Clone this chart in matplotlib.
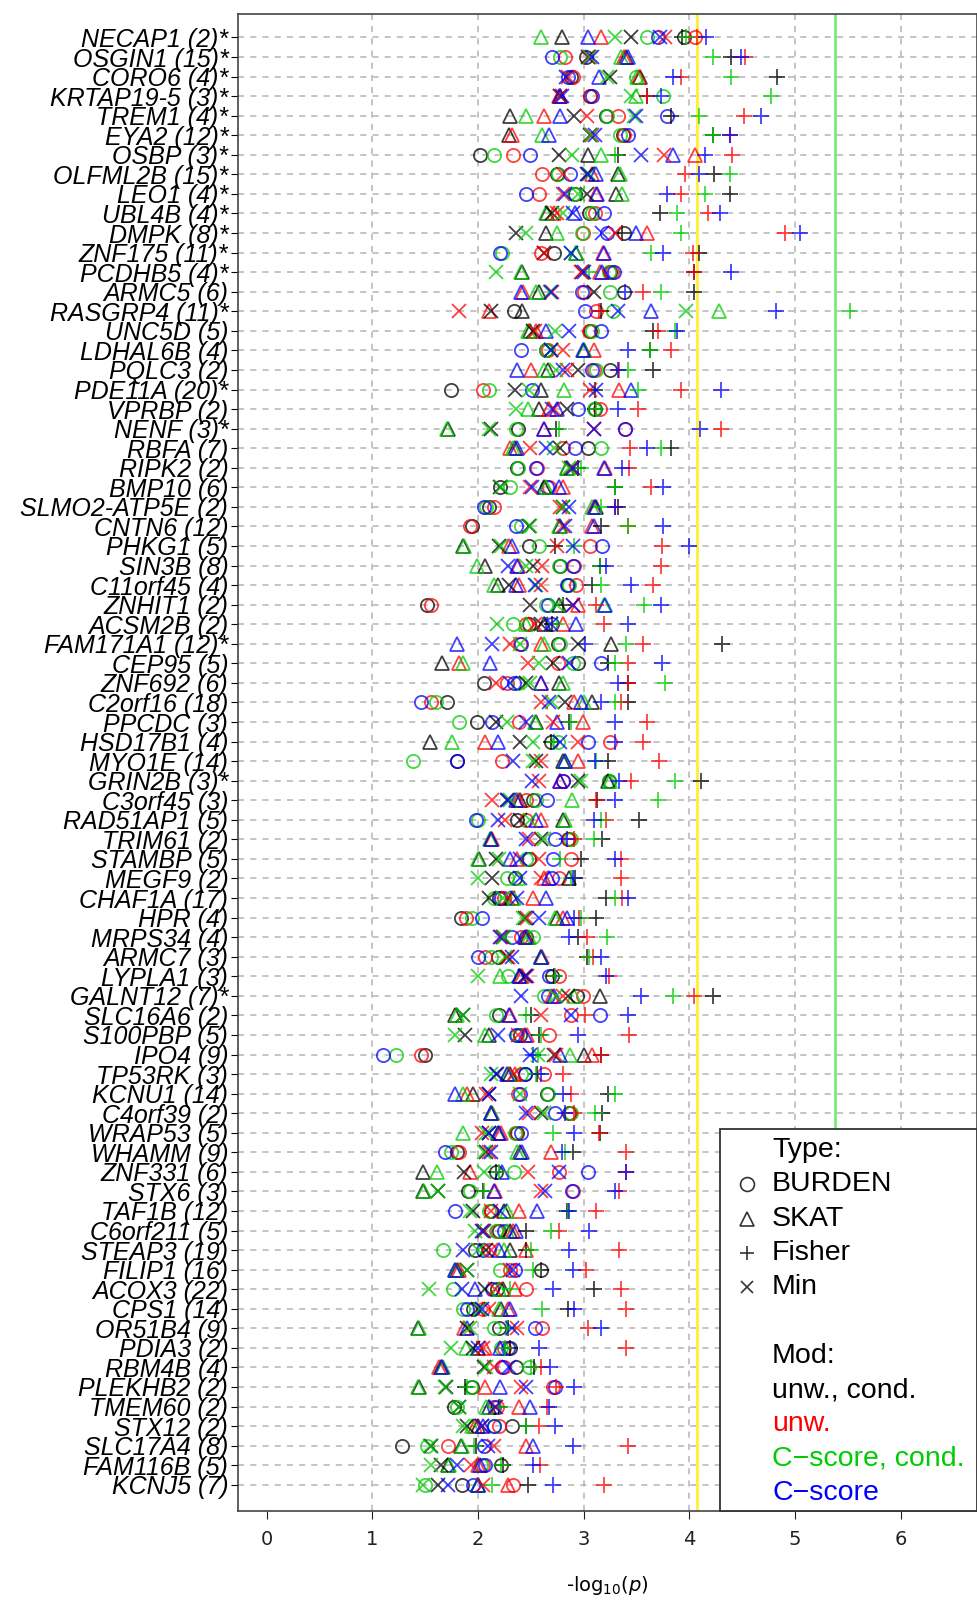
import matplotlib.pyplot as plt
from matplotlib.patches import Rectangle
from matplotlib.lines import Line2D

# genes from top to bottom, number of variants, and * flag
genes = ["NECAP1", "OSGIN1", "CORO6", "KRTAP19-5", "TREM1", "EYA2", "OSBP", "OLFML2B", "LEO1", "UBL4B",
         "DMPK", "ZNF175", "PCDHB5", "ARMC5", "RASGRP4", "UNC5D", "LDHAL6B", "PQLC3", "PDE11A", "VPRBP",
         "NENF", "RBFA", "RIPK2", "BMP10", "SLMO2-ATP5E", "CNTN6", "PHKG1", "SIN3B", "C11orf45", "ZNHIT1",
         "ACSM2B", "FAM171A1", "CEP95", "ZNF692", "C2orf16", "PPCDC", "HSD17B1", "MYO1E", "GRIN2B", "C3orf45",
         "RAD51AP1", "TRIM61", "STAMBP", "MEGF9", "CHAF1A", "HPR", "MRPS34", "ARMC7", "LYPLA1", "GALNT12",
         "SLC16A6", "S100PBP", "IPO4", "TP53RK", "KCNU1", "C4orf39", "WRAP53", "WHAMM", "ZNF331", "STX6",
         "TAF1B", "C6orf211", "STEAP3", "FILIP1", "ACOX3", "CPS1", "OR51B4", "PDIA3", "RBM4B", "PLEKHB2",
         "TMEM60", "STX12", "SLC17A4", "FAM116B", "KCNJ5"]
n_var = [2, 15, 4, 3, 4, 12, 3, 15, 4, 4, 8, 11, 4, 6, 11, 5, 4, 2, 20, 2, 3, 7, 2, 6, 2, 12, 5, 8, 4, 2,
         2, 12, 5, 6, 18, 3, 4, 14, 3, 3, 5, 2, 5, 2, 17, 4, 4, 3, 3, 7, 2, 5, 9, 3, 14, 2, 5, 9, 6, 3,
         12, 5, 19, 16, 22, 14, 9, 2, 4, 2, 2, 2, 8, 5, 7]
starred = ["NECAP1", "OSGIN1", "CORO6", "KRTAP19-5", "TREM1", "EYA2", "OSBP", "OLFML2B", "LEO1", "UBL4B",
           "DMPK", "ZNF175", "PCDHB5", "RASGRP4", "PDE11A", "NENF", "FAM171A1", "GRIN2B", "GALNT12"]

# -log10(p) per gene, columns: unw.+cond, unw., C-score+cond, C-score
burden = [[3.95, 4.05, 3.60, 3.70], [3.02, 2.82, 2.78, 2.70], [2.88, 2.90, 3.49, 2.85], [3.06, 3.06, 3.75, 3.08],
          [3.21, 3.32, 3.22, 3.79], [3.37, 3.38, 3.34, 3.42], [2.02, 2.33, 2.15, 2.49], [2.75, 2.61, 2.76, 2.87],
          [2.92, 2.58, 2.91, 2.45], [3.05, 3.11, 3.08, 3.19], [3.38, 2.99, 2.98, 3.22], [2.72, 2.60, 2.23, 2.21],
          [3.25, 3.27, 3.24, 3.29], [3.38, 3.00, 3.25, 2.98], [2.34, 3.12, 3.28, 3.01], [3.06, 3.05, 3.08, 3.16],
          [2.64, 2.66, 2.64, 2.41], [3.25, 3.10, 3.12, 3.08], [1.74, 2.05, 2.10, 2.51], [3.11, 3.15, 3.10, 2.95],
          [2.38, 3.39, 2.36, 3.39], [3.04, 2.80, 3.16, 2.92], [2.37, 2.56, 2.38, 2.55], [2.21, 2.67, 2.30, 2.65],
          [2.10, 2.15, 2.08, 2.06], [1.94, 1.92, 2.41, 2.36], [2.48, 3.06, 2.58, 3.17], [2.78, 2.91, 2.77, 2.90],
          [2.85, 2.93, 2.86, 2.84], [1.52, 1.56, 2.64, 2.66], [2.48, 2.45, 2.33, 2.70], [2.76, 2.40, 2.78, 2.41],
          [2.95, 2.76, 2.90, 3.16], [2.06, 2.27, 2.38, 2.34], [1.71, 1.56, 1.60, 1.46], [1.99, 2.39, 1.82, 2.13],
          [2.69, 3.25, 2.76, 3.04], [1.80, 2.23, 1.39, 1.80], [3.24, 2.80, 3.24, 2.80], [2.52, 2.45, 2.55, 2.65],
          [2.37, 2.45, 2.00, 1.98], [2.85, 2.86, 2.88, 2.73], [2.48, 2.88, 2.45, 2.71], [2.35, 2.77, 2.27, 2.70],
          [2.20, 2.25, 2.15, 2.22], [1.84, 1.89, 1.94, 2.04], [2.45, 2.41, 2.52, 2.32], [2.19, 2.07, 2.12, 2.00],
          [2.70, 2.77, 2.28, 2.67], [2.94, 2.99, 2.62, 2.66], [2.20, 2.88, 2.17, 3.15], [2.40, 2.67, 2.37, 2.36],
          [1.50, 1.46, 1.22, 1.10], [2.44, 2.62, 2.41, 2.44], [2.65, 2.38, 2.66, 2.40], [2.86, 2.87, 2.88, 2.73],
          [2.37, 2.36, 2.35, 2.41], [1.80, 1.82, 1.74, 1.69], [2.17, 2.77, 2.34, 3.04], [1.91, 2.90, 1.92, 2.89],
          [2.12, 2.12, 2.10, 1.78], [2.20, 2.18, 2.17, 2.25], [1.97, 2.10, 1.67, 2.05], [2.60, 2.30, 2.21, 2.35],
          [2.18, 2.45, 1.76, 2.13], [1.95, 2.05, 1.86, 1.90], [2.20, 2.61, 2.15, 2.54], [2.30, 2.25, 2.22, 2.28],
          [2.36, 2.25, 2.48, 2.23], [1.94, 2.71, 1.93, 2.73], [1.77, 2.18, 1.80, 2.15], [2.32, 2.20, 2.15, 2.15],
          [1.28, 1.72, 1.52, 2.06], [2.22, 2.05, 2.03, 2.07], [1.85, 2.33, 1.50, 1.95]]
skat = [[2.79, 3.16, 2.60, 3.04], [3.40, 3.38, 3.35, 3.42], [3.53, 3.52, 3.50, 3.14], [2.78, 2.77, 3.49, 2.78],
        [2.30, 2.62, 2.45, 2.78], [2.29, 2.32, 2.61, 2.67], [3.04, 4.05, 3.16, 3.84], [3.32, 3.08, 3.34, 3.12],
        [3.31, 3.12, 3.36, 3.13], [2.65, 2.72, 2.64, 2.92], [2.64, 3.60, 2.75, 3.49], [2.93, 3.18, 2.93, 3.19],
        [2.42, 3.15, 2.41, 3.17], [2.58, 2.43, 2.55, 2.41], [2.42, 2.10, 4.28, 3.64], [2.49, 2.55, 2.47, 2.64],
        [3.00, 3.10, 3.00, 2.99], [2.66, 2.50, 2.62, 2.37], [2.60, 3.33, 2.81, 3.45], [2.58, 2.67, 2.47, 2.75],
        [1.72, 2.62, 1.71, 2.62], [2.35, 2.30, 2.33, 2.37], [2.84, 3.20, 2.84, 3.19], [2.62, 2.80, 2.64, 2.77],
        [3.12, 3.10, 3.08, 3.11], [2.78, 3.08, 2.77, 3.10], [1.86, 2.29, 1.87, 2.32], [2.07, 2.38, 1.99, 2.37],
        [2.19, 2.39, 2.15, 2.36], [2.77, 2.95, 3.19, 3.20], [2.62, 2.80, 2.45, 2.93], [3.26, 2.60, 2.62, 1.80],
        [1.66, 1.82, 1.86, 2.11], [2.77, 2.60, 2.80, 2.60], [3.08, 2.91, 3.00, 2.97], [2.55, 2.99, 2.54, 2.75],
        [1.55, 2.07, 1.75, 2.19], [2.80, 2.95, 2.82, 2.82], [3.23, 2.78, 3.25, 2.78], [2.40, 2.38, 2.89, 2.36],
        [2.80, 2.60, 2.82, 2.55], [2.12, 2.13, 2.11, 2.12], [2.01, 2.37, 2.00, 2.30], [2.86, 2.62, 2.38, 2.67],
        [2.32, 2.52, 2.34, 2.64], [2.75, 2.80, 2.73, 2.84], [2.46, 2.45, 2.48, 2.44], [2.60, 2.61, 2.60, 2.60],
        [2.40, 2.42, 2.21, 2.39], [3.15, 2.70, 2.91, 2.72], [1.78, 2.30, 1.80, 2.29], [2.10, 2.46, 2.07, 2.44],
        [3.00, 3.08, 2.87, 2.78], [2.30, 2.35, 2.28, 2.27], [1.95, 1.90, 1.86, 1.78], [2.12, 2.13, 2.13, 2.12],
        [2.19, 2.22, 1.86, 2.20], [2.40, 2.69, 2.37, 2.42], [1.48, 1.92, 1.61, 2.23], [1.48, 2.16, 1.49, 2.15],
        [2.25, 2.39, 2.27, 2.56], [2.30, 2.33, 2.27, 2.36], [2.30, 2.45, 2.25, 2.20], [1.80, 1.82, 1.78, 1.78],
        [2.24, 2.35, 2.20, 1.97], [2.22, 2.28, 2.20, 2.30], [1.43, 1.87, 1.44, 1.90], [2.00, 2.07, 1.89, 2.21],
        [1.65, 1.63, 1.67, 1.66], [1.44, 2.07, 1.43, 2.21], [2.10, 2.39, 2.08, 2.49], [2.00, 1.97, 1.94, 2.05],
        [1.84, 2.45, 1.85, 2.52], [1.72, 2.00, 1.73, 2.02], [2.00, 2.28, 2.00, 2.00]]
fisher = [[3.93, 4.07, 3.97, 4.16], [4.39, 4.53, 4.22, 4.49], [4.83, 3.92, 4.39, 3.84], [3.60, 3.60, 4.77, 3.73],
          [3.83, 4.52, 4.09, 4.68], [4.22, 4.38, 4.22, 4.38], [3.32, 4.40, 3.30, 4.15], [4.23, 3.96, 4.38, 4.09],
          [4.38, 3.92, 4.15, 3.79], [3.72, 4.18, 3.88, 4.29], [3.36, 4.90, 3.92, 5.05], [4.09, 4.03, 3.64, 3.75],
          [4.04, 4.04, 3.05, 4.39], [4.04, 3.56, 3.73, 3.39], [3.16, 3.14, 5.52, 4.82], [3.66, 3.70, 3.86, 3.88],
          [3.63, 3.83, 3.63, 3.42], [3.66, 3.33, 3.42, 3.32], [3.11, 3.92, 3.51, 4.30], [3.11, 3.51, 3.12, 3.32],
          [2.74, 4.30, 2.77, 4.10], [3.83, 3.44, 3.73, 3.60], [2.95, 3.43, 2.97, 3.36], [3.30, 3.64, 3.30, 3.75],
          [3.32, 3.30, 3.16, 3.30], [3.16, 3.42, 3.42, 3.75], [2.73, 3.74, 2.91, 4.00], [3.15, 3.73, 3.15, 3.21],
          [3.08, 3.66, 3.16, 3.45], [2.80, 3.12, 3.57, 3.73], [2.70, 3.19, 2.75, 3.42], [4.31, 3.56, 3.40, 3.01],
          [3.23, 3.42, 3.30, 3.74], [3.42, 3.42, 3.77, 3.32], [3.42, 3.35, 3.30, 3.16], [2.86, 3.60, 2.88, 3.30],
          [2.69, 3.56, 2.72, 3.30], [3.23, 3.71, 3.12, 3.11], [4.11, 3.45, 3.86, 3.33], [3.13, 3.12, 3.70, 3.30],
          [3.52, 3.21, 3.16, 3.10], [3.17, 2.91, 3.10, 2.84], [2.97, 3.35, 2.78, 3.30], [2.92, 3.35, 2.88, 2.90],
          [3.21, 3.36, 3.30, 3.42], [3.12, 2.96, 2.97, 2.91], [2.95, 3.03, 3.22, 2.86], [3.03, 3.09, 3.05, 3.16],
          [2.72, 3.24, 2.73, 3.21], [4.22, 4.04, 3.84, 3.54], [2.50, 3.01, 2.45, 3.42], [2.58, 3.43, 2.60, 2.95],
          [3.16, 3.16, 2.57, 2.52], [2.56, 2.80, 2.55, 2.60], [3.23, 2.88, 3.30, 2.80], [3.17, 2.91, 3.11, 2.82],
          [3.15, 3.14, 2.71, 2.91], [2.90, 3.40, 2.82, 2.79], [2.17, 3.40, 2.20, 3.40], [2.05, 3.33, 2.06, 3.30],
          [2.84, 3.12, 2.85, 2.86], [2.45, 2.77, 2.69, 3.05], [2.45, 3.33, 2.50, 2.86], [2.60, 3.02, 2.52, 2.90],
          [3.10, 3.35, 2.30, 2.71], [2.85, 3.40, 2.61, 2.91], [2.28, 3.04, 2.27, 3.16], [2.30, 3.40, 2.26, 2.58],
          [2.53, 2.60, 2.50, 2.68], [1.88, 2.74, 1.90, 2.91], [2.20, 2.65, 2.21, 2.67], [2.45, 2.58, 2.45, 2.73],
          [1.98, 3.42, 1.96, 2.90], [2.24, 2.59, 2.22, 2.52], [2.47, 3.19, 2.13, 2.71]]
minp = [[3.45, 3.77, 3.30, 3.72], [3.04, 3.05, 3.06, 3.08], [3.25, 2.85, 3.22, 2.83], [2.78, 2.78, 3.45, 2.79],
        [2.91, 3.03, 3.48, 3.49], [3.06, 3.08, 3.07, 3.11], [2.77, 3.76, 2.89, 3.54], [3.03, 2.80, 3.05, 3.04],
        [3.03, 2.80, 2.95, 2.82], [2.70, 2.75, 2.80, 2.90], [2.36, 3.30, 2.45, 3.17], [2.62, 2.62, 2.88, 2.88],
        [2.98, 2.97, 2.17, 3.00], [3.10, 2.70, 2.68, 2.69], [2.12, 1.82, 3.97, 3.32], [2.52, 2.54, 2.73, 2.86],
        [2.69, 2.80, 2.69, 2.69], [2.95, 2.84, 2.74, 2.80], [2.35, 3.06, 2.48, 3.12], [2.84, 2.72, 2.36, 2.70],
        [2.12, 3.10, 2.10, 3.10], [2.78, 2.49, 2.72, 2.64], [2.88, 2.89, 2.86, 2.90], [2.21, 2.49, 2.22, 2.51],
        [2.80, 2.78, 2.80, 2.86], [2.48, 2.80, 2.49, 2.82], [2.20, 2.75, 2.22, 2.90], [2.52, 2.61, 2.45, 2.28],
        [2.29, 2.60, 2.55, 2.54], [2.49, 2.90, 2.75, 2.90], [2.60, 2.54, 2.18, 2.69], [2.95, 2.30, 2.40, 2.13],
        [2.71, 2.47, 2.58, 2.86], [2.45, 2.17, 2.49, 2.30], [2.82, 2.60, 2.70, 2.67], [2.17, 2.71, 2.27, 2.45],
        [2.40, 2.95, 2.52, 2.78], [2.55, 2.60, 2.52, 2.33], [2.95, 2.58, 2.97, 2.51], [2.27, 2.13, 2.30, 2.28],
        [2.40, 2.26, 2.49, 2.19], [2.60, 2.48, 2.62, 2.45], [2.17, 2.58, 2.20, 2.40], [2.13, 2.60, 2.00, 2.40],
        [2.10, 2.28, 2.24, 2.37], [2.44, 2.46, 2.43, 2.58], [2.24, 2.22, 2.25, 2.21], [2.27, 2.28, 2.26, 2.32],
        [2.44, 2.46, 2.00, 2.45], [2.85, 2.80, 2.74, 2.41], [1.86, 2.60, 1.86, 2.88], [1.88, 2.38, 1.78, 2.19],
        [2.72, 2.74, 2.57, 2.49], [2.18, 2.34, 2.12, 2.17], [2.10, 2.08, 2.40, 2.10], [2.60, 2.48, 2.62, 2.45],
        [2.10, 2.04, 2.08, 2.10], [2.08, 2.10, 2.06, 2.12], [1.87, 2.47, 2.06, 2.77], [1.62, 2.60, 1.62, 2.63],
        [1.95, 2.12, 1.92, 2.21], [2.06, 2.05, 1.97, 2.04], [2.08, 2.12, 2.00, 1.86], [1.90, 2.30, 1.90, 2.33],
        [2.07, 2.16, 1.54, 1.85], [2.00, 2.10, 2.02, 2.04], [1.90, 2.37, 1.92, 2.32], [1.95, 2.05, 1.74, 2.00],
        [2.06, 2.15, 2.08, 2.29], [1.70, 2.41, 1.69, 2.45], [1.82, 2.17, 1.82, 2.16], [1.90, 2.04, 1.86, 2.04],
        [1.56, 2.15, 1.55, 2.09], [1.65, 1.93, 1.56, 1.80], [1.62, 2.05, 1.48, 1.72]]

yellow_line = 4.07
green_line = 5.38

mod_names = ["unw., cond.", "unw.", "C\u2212score, cond.", "C\u2212score"]
mod_colors = ["#000000", "#FF0000", "#00CD00", "#0000FF"]
type_names = ["BURDEN", "SKAT", "Fisher", "Min"]
type_markers = ["o", "^", "+", "x"]

W, H = 977, 1603
fig = plt.figure(figsize=(W / 100, H / 100), dpi=100)
ax = fig.add_axes([238 / W, 1 - 1511 / H, (977 - 238) / W, (1511 - 14) / H])

n = len(genes)
ypos = [n - i for i in range(n)]

for i in range(1, 7):
    ax.axvline(i, color="#b4b4b4", ls=(0, (4, 4)), lw=1.1, zorder=0)
for y in ypos:
    ax.axhline(y, color="#b4b4b4", ls=(0, (4, 4)), lw=1.1, zorder=0)

ax.axvline(yellow_line, color="#FFEE33", lw=2, zorder=1)
ax.axvline(green_line, color="#77EE77", lw=2, zorder=1)

for data, mk in zip([burden, skat, fisher, minp], type_markers):
    for c in range(4):
        xs = [row[c] for row in data]
        if mk in ("o", "^"):
            ax.plot(xs, ypos, ls="none", marker=mk, ms=9.5 if mk == "o" else 10.5, mfc="none",
                    mec=mod_colors[c], mew=1.3, alpha=0.75, zorder=3)
        else:
            ax.plot(xs, ypos, ls="none", marker=mk, ms=11.5 if mk == "+" else 9.5,
                    mec=mod_colors[c], mew=1.3, alpha=0.75, zorder=3)

ax.set_xlim(-0.27, 6.72)
ax.set_ylim(-0.34, n + 1.2)
ax.set_xticks(range(7))
ax.tick_params(axis="x", labelsize=14, length=6, pad=8, colors="#222222")
labels = [f"{g} ({k}){'*' if g in starred else ''}" for g, k in zip(genes, n_var)]
ax.set_yticks(ypos)
ax.set_yticklabels(labels, fontsize=18, fontstyle="italic", family="Liberation Sans")
ax.tick_params(axis="y", length=5, pad=2)
for s in ax.spines.values():
    s.set_color("#444444")
    s.set_linewidth(1.2)
ax.set_xlabel(r"-log$_{10}$($\it{p}$)", fontsize=14, labelpad=18)

# legend box
def fx(px):
    return px / W

def fy(py):
    return 1 - py / H

fig.add_artist(Rectangle((fx(720), fy(1511)), fx(977 - 720), (1511 - 1129) / H,
                         transform=fig.transFigure, facecolor="white", edgecolor="#333333",
                         lw=1.3, zorder=5))
row_y = [1150 + 34.3 * k for k in range(11)]
fig.text(fx(772), fy(row_y[0]), "Type:", fontsize=20.5, va="center", ha="left",
         family="Liberation Sans", zorder=6)
for k, (name, mk) in enumerate(zip(type_names, type_markers)):
    yy = fy(row_y[k + 1])
    fig.add_artist(Line2D([fx(747)], [yy], transform=fig.transFigure, ls="none", marker=mk,
                          ms=10 if mk != "x" else 9, mfc="none", mec="#333333", mew=1.2, zorder=6))
    fig.text(fx(772), yy, name, fontsize=20.5, va="center", ha="left", family="Liberation Sans", zorder=6)
fig.text(fx(772), fy(row_y[6]), "Mod:", fontsize=20.5, va="center", ha="left",
         family="Liberation Sans", zorder=6)
for k, (name, col) in enumerate(zip(mod_names, mod_colors)):
    fig.text(fx(772), fy(row_y[7 + k]), name, fontsize=20.5, va="center", ha="left", color=col,
             family="Liberation Sans", zorder=6)

fig.savefig("out.png", dpi=100)
